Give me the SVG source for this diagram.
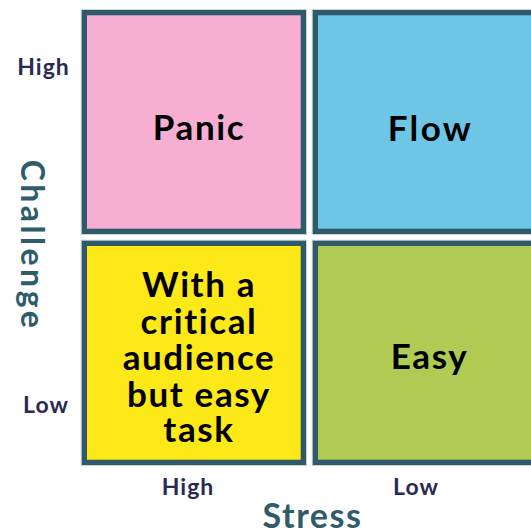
<svg xmlns="http://www.w3.org/2000/svg" width="531" height="532" viewBox="0 0 531 532">
  <style>
    .box { stroke: #305a6a; stroke-width: 5.3; }
    .halo { fill: none; stroke: #c9d3d8; stroke-width: 1; }
    .q { font-family: Lato, "Open Sans", "Liberation Sans", sans-serif; font-weight: 700; font-size: 35px; letter-spacing: 1.6px; fill: #000; text-anchor: middle; }
    .tick { font-family: Lato, "Open Sans", "Liberation Sans", sans-serif; font-weight: 700; font-size: 23px; letter-spacing: 1px; fill: #282a52; text-anchor: middle; }
    .axis { font-family: Lato, "Open Sans", "Liberation Sans", sans-serif; font-weight: 700; font-size: 34px; letter-spacing: 1.5px; fill: #2e5c6b; text-anchor: middle; }
  </style>
  <rect width="531" height="532" fill="#ffffff"/>

  <!-- quadrant: high stress / high challenge -->
  <g id="panic">
    <rect class="halo" x="81.2" y="9.5" width="225.3" height="225"/>
    <rect class="box" x="84.35" y="12.65" width="219" height="218.7" fill="#f6afd2"/>
    <text class="q" x="199" y="140">Panic</text>
  </g>

  <!-- quadrant: low stress / high challenge -->
  <g id="flow">
    <rect class="halo" x="312.2" y="9.5" width="225.3" height="225"/>
    <rect class="box" x="315.35" y="12.65" width="219" height="218.7" fill="#6dc6e6"/>
    <text class="q" x="430.5" y="141" style="letter-spacing:2.4px">Flow</text>
  </g>

  <!-- quadrant: high stress / low challenge -->
  <g id="critical">
    <rect class="halo" x="81.2" y="240.2" width="225.3" height="225.3"/>
    <rect class="box" x="84.35" y="243.35" width="219" height="219" fill="#fde917"/>
    <text class="q" x="199" y="297">With a</text>
    <text class="q" x="199" y="334">critical</text>
    <text class="q" x="199" y="370">audience</text>
    <text class="q" x="199" y="407">but easy</text>
    <text class="q" x="199" y="442">task</text>
  </g>

  <!-- quadrant: low stress / low challenge -->
  <g id="easy">
    <rect class="halo" x="312.2" y="240.2" width="225.3" height="225.3"/>
    <rect class="box" x="315.35" y="243.35" width="219" height="219" fill="#afcb54"/>
    <text class="q" x="429.5" y="369">Easy</text>
  </g>

  <!-- axis labels -->
  <g id="axes">
    <text class="tick" x="43.5" y="75">High</text>
    <text class="tick" x="46" y="413">Low</text>
    <text class="tick" x="188" y="495">High</text>
    <text class="tick" x="416" y="495">Low</text>
    <text class="axis" x="312.5" y="528">Stress</text>
    <text class="axis" transform="translate(21 245.5) rotate(90)" x="0" y="0" style="font-size:32px;letter-spacing:3.5px">Challenge</text>
  </g>
</svg>
